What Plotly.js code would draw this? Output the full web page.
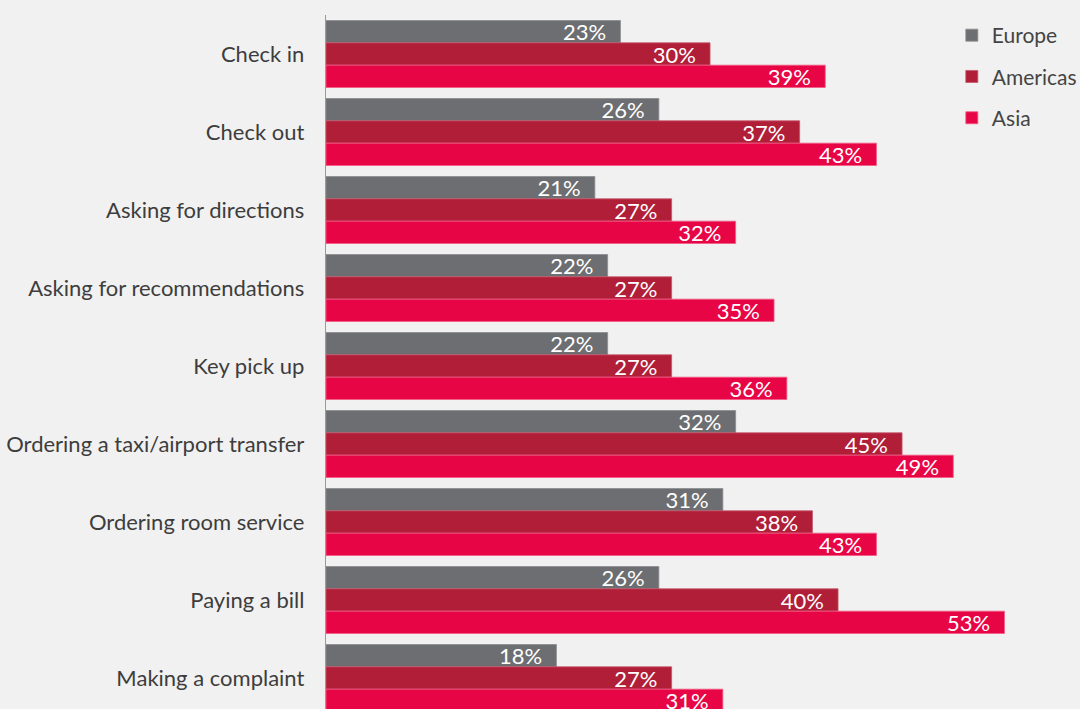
<!DOCTYPE html>
<html>
<head>
<meta charset="utf-8">
<script src="https://cdn.plot.ly/plotly-3.0.1.min.js"></script>
<style>
html,body{margin:0;padding:0;background:#f1f1f1;overflow:hidden;}
#chart{width:1080px;height:717px;}
</style>
</head>
<body>
<div id="chart"></div>
<script>
const categories = ["Check in","Check out","Asking for directions","Asking for recommendations","Key pick up","Ordering a taxi/airport transfer","Ordering room service","Paying a bill","Making a complaint"];
const europe   = [23,26,21,22,22,32,31,26,18];
const americas = [30,37,27,27,27,45,38,40,27];
const asia     = [39,43,32,35,36,49,43,53,31];
const seriesNames = ["Europe","Americas","Asia"];
const seriesColors = ["#6d6e71","#b01e38","#e80546"];
const seriesLines = ["#8a8b8e","#c8566a","#f25a84"];
const seriesValues = [europe, americas, asia];

const FONT = "Lato, 'Noto Sans', sans-serif";

const traces = seriesValues.map((vals, i) => ({
  type: 'bar',
  orientation: 'h',
  name: seriesNames[i],
  legendgroup: seriesNames[i],
  y: categories,
  x: vals,
  text: vals.map(v => v + '%\u00a0\u00a0'),
  textposition: 'inside',
  insidetextanchor: 'end',
  constraintext: 'none',
  cliponaxis: true,
  textfont: {color: '#ffffff', size: 22, family: FONT},
  marker: {color: seriesColors[i], line: {color: seriesLines[i], width: 0.8}},
  hoverinfo: 'skip'
}));

const layout = {
  width: 1080,
  height: 717,
  margin: {l: 326, r: 0, t: 15, b: 0, pad: 0, autoexpand: false},
  paper_bgcolor: '#f1f1f1',
  plot_bgcolor: '#f1f1f1',
  barmode: 'group',
  bargap: 0.141,
  bargroupgap: 0,
  font: {family: FONT, color: '#3a3a3a', size: 22},
  xaxis: {range: [0, 58.9], showgrid: false, zeroline: false, showticklabels: false, ticks: '', showline: false, fixedrange: true, automargin: false},
  yaxis: {autorange: 'reversed', showgrid: false, zeroline: false, ticks: '', showline: true, linecolor: '#9a9a9a', linewidth: 1.2, automargin: false,
          ticklabelstandoff: 16, tickfont: {family: FONT, size: 22, color: '#3d3d3d'}, fixedrange: true},
  legend: {x: 0.83, y: 1.0, xanchor: 'left', yanchor: 'top', traceorder: 'grouped', tracegroupgap: 11,
           font: {family: FONT, size: 21, color: '#444444'}, bgcolor: 'rgba(0,0,0,0)', itemwidth: 30},
  showlegend: true
};

Plotly.newPlot('chart', traces, layout, {displayModeBar: false, staticPlot: true});
</script>
</body>
</html>
